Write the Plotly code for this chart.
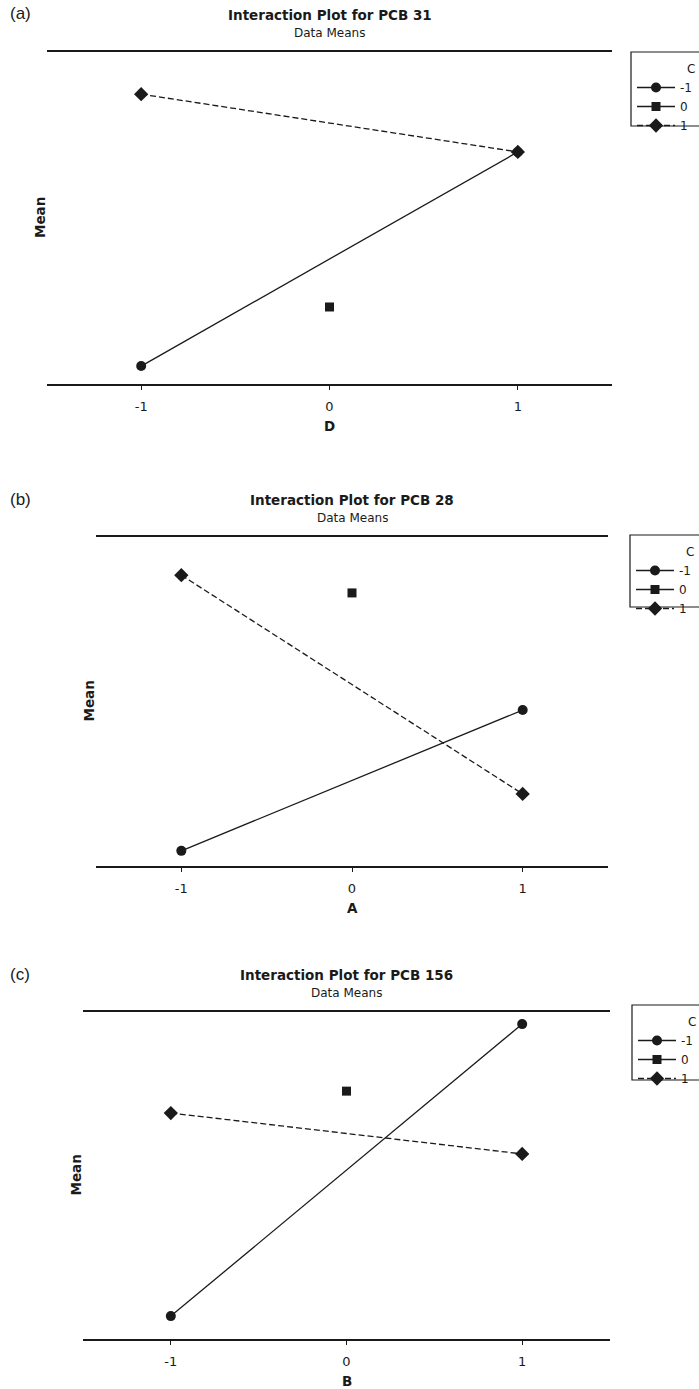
import plotly.graph_objects as go

# ---- data (arbitrary "Mean" units) ----
levels = [-1, 0, 1]
tick_labels = ["-1", "0", "1"]
c_levels = ["-1", "0", "1"]

# Panel (a): PCB 31 vs D
a_x_m1 = [-1, 1]; a_y_m1 = [5.4, 69.9]
a_x_0 = [0];      a_y_0 = [23.2]
a_x_p1 = [-1, 1]; a_y_p1 = [87.3, 69.9]

# Panel (b): PCB 28 vs A
b_x_m1 = [-1, 1]; b_y_m1 = [4.6, 47.4]
b_x_0 = [0];      b_y_0 = [83.0]
b_x_p1 = [-1, 1]; b_y_p1 = [88.4, 21.9]

# Panel (c): PCB 156 vs B
c_x_m1 = [-1, 1]; c_y_m1 = [7.0, 96.3]
c_x_0 = [0];      c_y_0 = [75.8]
c_x_p1 = [-1, 1]; c_y_p1 = [69.1, 56.6]

panels = [
    dict(tag="(a)", title="Interaction Plot for PCB 31", factor="D",
         series=[(a_x_m1, a_y_m1), (a_x_0, a_y_0), (a_x_p1, a_y_p1)],
         px=(47, 612), py=(52, 384), mean_x=40, leg=(631, 52, 126)),
    dict(tag="(b)", title="Interaction Plot for PCB 28", factor="A",
         series=[(b_x_m1, b_y_m1), (b_x_0, b_y_0), (b_x_p1, b_y_p1)],
         px=(96, 608), py=(537, 866), mean_x=88, leg=(630, 535, 607)),
    dict(tag="(c)", title="Interaction Plot for PCB 156", factor="B",
         series=[(c_x_m1, c_y_m1), (c_x_0, c_y_0), (c_x_p1, c_y_p1)],
         px=(83, 610), py=(1012, 1339), mean_x=75, leg=(632, 1005, 1080)),
]

W, H = 699, 1389
INK = "#1a1a1a"
FONT = "DejaVu Sans"
symbols = ["circle", "square", "diamond"]
sizes = [10, 9, 11]
dashes = ["solid", "solid", "6px,3px"]

fig = go.Figure()
layout = dict(width=W, height=H,
              margin=dict(l=0, r=0, t=0, b=0, autoexpand=False),
              paper_bgcolor="white", plot_bgcolor="white",
              font=dict(family=FONT, color=INK))
annotations = []
shapes = []


def ann(text, x, y, size, xref="paper", family=FONT, angle=0, xanchor="center"):
    return dict(text=text, x=x, y=y, xref=xref, yref="paper", showarrow=False,
                xanchor=xanchor, yanchor="middle", textangle=angle,
                font=dict(size=size, family=family, color=INK))


for i, p in enumerate(panels):
    n = "" if i == 0 else str(i + 1)
    xa, ya = "x" + n, "y" + n
    leg = "legend" if i == 0 else "legend" + str(i + 1)
    for j, (xs, ys) in enumerate(p["series"]):
        fig.add_trace(go.Scatter(
            x=xs, y=ys, xaxis=xa, yaxis=ya, name=c_levels[j],
            mode="lines+markers", legend=leg,
            line=dict(color=INK, width=1.3, dash=dashes[j]),
            marker=dict(symbol=symbols[j], size=sizes[j], color=INK),
        ))
    x0, x1 = p["px"]
    ytop, ybot = p["py"]
    layout["xaxis" + n] = dict(
        domain=[x0 / W, x1 / W], range=[-1.5, 1.5], anchor=ya,
        tickvals=levels, ticktext=tick_labels, ticks="outside", ticklen=4,
        tickwidth=1.3, tickcolor=INK, showline=True, linecolor=INK,
        linewidth=1.5, mirror=True, showgrid=False, zeroline=False,
        tickfont=dict(size=13, family=FONT), ticklabelstandoff=6,
    )
    layout["yaxis" + n] = dict(
        domain=[(H - ybot) / H, (H - ytop) / H], range=[0, 100], anchor=xa,
        showline=False, showticklabels=False, ticks="", showgrid=False,
        zeroline=False,
    )
    cx = (x0 + x1) / 2 / W
    annotations += [
        ann("<b>" + p["title"] + "</b>", cx, 1 - (ytop - 37) / H, 13.5),
        ann("Data Means", cx, 1 - (ytop - 19) / H, 12),
        ann(p["tag"], 20 / W, 1 - (ytop - 38) / H, 17, family="Liberation Sans"),
        ann("<b>" + p["factor"] + "</b>", 0, 1 - (ybot + 42) / H, 13.5, xref="x" + n),
        ann("<b>Mean</b>", p["mean_x"] / W, 1 - ((ytop + ybot) / 2) / H, 13.5, angle=-90),
    ]
    lx, lt, lb = p["leg"]
    shapes.append(dict(type="rect", xref="paper", yref="paper",
                       x0=lx / W, x1=1.1, y0=1 - lb / H, y1=1 - lt / H,
                       line=dict(color=INK, width=1.2), fillcolor="rgba(0,0,0,0)"))
    annotations.append(ann("C", (lx + 54) / W, 1 - (lt + 17) / H, 12, xanchor="left"))
    layout[leg] = dict(x=(lx + 1) / W, y=1 - (lt + 21) / H, xanchor="left",
                       yanchor="top", bgcolor="rgba(0,0,0,0)", borderwidth=0,
                       font=dict(size=12, family=FONT, color=INK),
                       tracegroupgap=0, itemwidth=38)

layout["annotations"] = annotations
layout["shapes"] = shapes
layout["showlegend"] = True
fig.update_layout(**layout)
fig.write_html("out.html")
